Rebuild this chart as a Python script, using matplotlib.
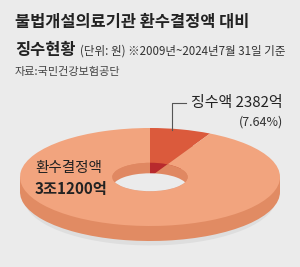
import numpy as np
import matplotlib.pyplot as plt
from matplotlib.patches import Rectangle

plt.rcParams['font.family'] = ['Noto Sans CJK KR', 'DejaVu Sans']

# data (억 원)
decided = 31200      # 환수결정액
collected = 2382     # 징수액
pct = 7.64           # 징수율 (%)
values = [collected, decided - collected]

title1 = "불법개설의료기관 환수결정액 대비"
title2 = "징수현황"
subtitle = "(단위: 원) ※2009년~2024년7월 31일 기준"
source = "자료:국민건강보험공단"

bg = "#ebebeb"
top_colors = ["#db5a3c", "#f2a47e"]
side_colors = ["#c94a33", "#e18b63"]
wall_colors = ["#b82a2d", "#e08862"]

fig = plt.figure(figsize=(3, 2.67), dpi=100, facecolor=bg)

# donut axes: 1 unit = 130 px horizontally, 49 px vertically
W, H = 300, 267
rx, ry = 130, 49
cx, cy = 150, 177
xl = (-1.1, 1.1)
yl = (-1.6, 1.2)
ax = fig.add_axes([(cx + xl[0] * rx) / W, (H - cy + yl[0] * ry) / H,
                   (xl[1] - xl[0]) * rx / W, (yl[1] - yl[0]) * ry / H])
t = 15 / ry        # thickness
hole = 0.29
kw = dict(startangle=90, counterclock=False)

# shadow
ax.pie(values, colors=["#dedede", "#dedede"], radius=0.97, center=(0, -t - 0.12),
       wedgeprops=dict(linewidth=0), **kw)
# side
ax.pie(values, colors=side_colors, radius=1, center=(0, -t),
       wedgeprops=dict(linewidth=0), **kw)
ax.add_patch(Rectangle((-1, -t), 2, t, color=side_colors[1], lw=0))
# top surface
ax.pie(values, colors=top_colors, radius=1, center=(0, 0),
       wedgeprops=dict(width=1 - hole, linewidth=0), **kw)
# inner wall
walls, _ = ax.pie(values, colors=wall_colors, radius=hole, center=(0, 0),
                  wedgeprops=dict(linewidth=0), **kw)
# see-through part of the hole
holes, _ = ax.pie([1], colors=[bg], radius=hole, center=(0, -t * 0.7),
                  wedgeprops=dict(linewidth=0), **kw)
clip, _ = ax.pie([1], colors=["none"], radius=hole, center=(0, 0),
                 wedgeprops=dict(linewidth=0), **kw)
holes[0].set_clip_on(True)
holes[0].set_clip_path(clip[0])

ax.set_aspect('auto')
ax.set_xlim(*xl)
ax.set_ylim(*yl)
ax.axis('off')

# overlay for text in pixel coordinates
ov = fig.add_axes([0, 0, 1, 1], facecolor="none")
ov.set_xlim(0, W)
ov.set_ylim(H, 0)
ov.axis('off')

ov.text(15, 22, title1, fontsize=11.8, fontweight='bold', color="#222", va='center')
ov.text(15, 50, title2, fontsize=11.8, fontweight='bold', color="#222", va='center')
ov.text(80, 51, subtitle, fontsize=8.3, color="#333", va='center')
ov.text(15, 72, source, fontsize=8, color="#444", va='center')

ov.plot([172, 172, 186], [130, 103, 103], color="#555", lw=0.8)
ov.text(191, 103, f"징수액 {collected}억", fontsize=10.8, color="#222", va='center')
ov.text(283, 122, f"({pct:.2f}%)", fontsize=9, color="#333", va='center', ha='right')

ov.text(35, 168, "환수결정액", fontsize=10.5, color="#222", va='center')
ov.text(35, 189, f"3조{decided - 30000}억", fontsize=11, fontweight='bold', color="#222", va='center')

fig.savefig("out.png", dpi=100, facecolor=bg)
